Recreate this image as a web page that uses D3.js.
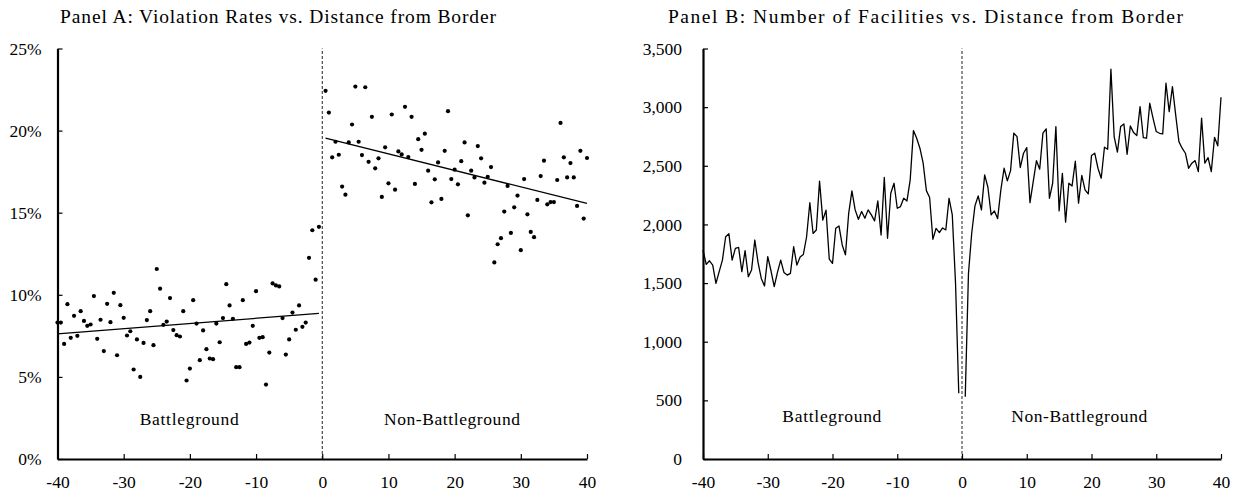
<!DOCTYPE html>
<html>
<head>
<meta charset="utf-8">
<script src="https://cdn.jsdelivr.net/npm/d3@7"></script>
<style>
  body { margin: 0; background: #fff; }
  svg text { font-family: "Liberation Serif", "DejaVu Serif", serif; fill: #000; }
</style>
</head>
<body>
<svg id="chart" width="1239" height="495"></svg>
<script>
// Panel A: violation rate (%) per half-unit bin, left of border (-40 .. -0.5) and right (0.5 .. 40)
var rateLeft = [8.31, 8.31, 7.01, 9.43, 7.38, 8.72, 7.50, 9.00, 8.41, 8.11,
  8.19, 9.92, 7.32, 8.48, 6.57, 9.45, 8.33, 10.12, 6.32, 9.37,
  8.60, 7.52, 7.78, 5.45, 7.28, 5.00, 7.07, 8.46, 9.00, 6.93,
  11.57, 10.37, 8.17, 8.37, 9.80, 7.85, 7.54, 7.46, 9.00, 4.78,
  5.51, 9.67, 8.25, 6.02, 7.83, 6.69, 6.12, 6.08, 8.25, 7.11,
  8.58, 10.65, 9.35, 8.54, 5.59, 5.59, 9.67, 7.01, 7.09, 8.11,
  10.22, 7.38, 7.42, 4.53, 6.48, 10.69, 10.57, 10.51, 8.58, 6.36,
  7.28, 8.92, 7.87, 9.35, 8.05, 8.31, 12.25, 13.93, 10.92, 14.14];
var rateRight = [22.42, 21.10, 18.37, 19.32, 18.53, 16.59, 16.10, 19.28, 20.37, 22.68,
  19.32, 18.51, 22.64, 18.10, 20.84, 17.70, 18.31, 15.96, 18.98, 16.79,
  20.98, 16.40, 18.73, 18.55, 21.45, 18.39, 20.84, 16.75, 19.48, 18.83,
  19.81, 17.56, 15.63, 17.03, 18.06, 15.84, 18.77, 21.18, 17.05, 17.62,
  16.73, 18.14, 19.28, 14.84, 17.56, 17.15, 19.06, 18.31, 16.83, 17.19,
  17.78, 11.97, 13.08, 13.45, 15.07, 16.63, 13.77, 15.33, 16.04, 12.72,
  17.05, 14.90, 13.83, 13.51, 15.78, 17.23, 18.17, 15.51, 15.65, 15.65,
  16.99, 20.47, 18.37, 17.15, 18.02, 17.15, 15.41, 18.77, 14.64, 18.33];

// Panel B: number of facilities per half-unit bin
var facLeft = [1781, 1659, 1690, 1653, 1497, 1597, 1696, 1895, 1920, 1696,
  1796, 1804, 1597, 1776, 1554, 1611, 1867, 1676, 1540, 1475,
  1725, 1605, 1469, 1591, 1696, 1591, 1568, 1583, 1810, 1653,
  1722, 1744, 1895, 2185, 1923, 1952, 2369, 2037, 2122, 1705,
  1668, 1967, 1987, 1825, 1740, 2095, 2286, 2124, 2044, 2110,
  2053, 2124, 2081, 2030, 2200, 1910, 2400, 1882, 2266, 2351,
  2138, 2152, 2223, 2200, 2380, 2800, 2735, 2650, 2522, 2288,
  2229, 1873, 1967, 1930, 1970, 1953, 2223, 2081, 1500, 560];
var facRight = [531, 1583, 1925, 2158, 2243, 2124, 2422, 2317, 2081, 2115,
  2050, 2294, 2479, 2371, 2459, 2778, 2749, 2485, 2607, 2655,
  2186, 2365, 2544, 2471, 2778, 2815, 2223, 2351, 2834, 2115,
  2436, 2019, 2351, 2328, 2539, 2181, 2419, 2294, 2260, 2587,
  2607, 2479, 2394, 2658, 2641, 3323, 2749, 2616, 2834, 2857,
  2598, 2840, 2783, 2758, 3005, 2741, 2735, 3033, 2906, 2792,
  2777, 2772, 3204, 2962, 3175, 2934, 2706, 2650, 2607, 2479,
  2522, 2544, 2450, 2906, 2522, 2570, 2450, 2743, 2670, 3085];

var rateTicks = [0, 5, 10, 15, 20, 25];
var facTicks = [0, 500, 1000, 1500, 2000, 2500, 3000, 3500];
var distTicks = [-40, -30, -20, -10, 0, 10, 20, 30, 40];
var titles = ["Panel A: Violation Rates vs. Distance from Border",
              "Panel B: Number of Facilities vs. Distance from Border"];
var sideLabels = ["Battleground", "Non-Battleground"];

var xsLeft = rateLeft.map(function(d, i) { return -40 + 0.5 * i; });
var xsRight = rateRight.map(function(d, i) { return 0.5 + 0.5 * i; });

var svg = d3.select('#chart');

// least squares fit
function fit(xs, ys) {
  var mx = d3.mean(xs), my = d3.mean(ys);
  var sxy = d3.sum(xs, function(x, i) { return (x - mx) * (ys[i] - my); });
  var sxx = d3.sum(xs, function(x) { return (x - mx) * (x - mx); });
  var b = sxy / sxx;
  return function(x) { return my + b * (x - mx); };
}

function drawPanel(opt) {
  var x = d3.scaleLinear().domain([-40, 40]).range(opt.xRange);
  var y = d3.scaleLinear().domain(opt.yDomain).range([459, 48.5]);
  var g = svg.append('g');

  // border line
  g.append('line')
    .attr('x1', x(0)).attr('x2', x(0))
    .attr('y1', y(opt.yDomain[0])).attr('y2', y(opt.yDomain[1]))
    .attr('stroke', '#222').attr('stroke-width', 1)
    .attr('stroke-dasharray', '3,2');

  // axes
  var yAxis = g.append('g')
    .attr('transform', 'translate(' + opt.xRange[0] + ',0)')
    .call(d3.axisLeft(y).tickValues(opt.yTicks).tickFormat(opt.fmt)
      .tickSizeInner(-5).tickSizeOuter(0).tickPadding(opt.yPad));
  var xAxis = g.append('g')
    .attr('transform', 'translate(0,459)')
    .call(d3.axisBottom(x).tickValues(distTicks)
      .tickFormat(function(d) { return String(d); })
      .tickSizeInner(-5).tickSizeOuter(0).tickPadding(17));
  [xAxis, yAxis].forEach(function(a) {
    a.select('.domain').attr('stroke', '#000').attr('stroke-width', 2.2);
    a.selectAll('.tick line').attr('stroke', '#000').attr('stroke-width', 1.2);
    a.selectAll('text').style('font-size', '17.5px');
  });

  g.append('text')
    .attr('x', opt.titleX).attr('y', 22.7)
    .attr('text-anchor', 'middle')
    .attr('textLength', opt.titleW)
    .attr('lengthAdjust', 'spacing')
    .style('font-size', '19.5px')
    .text(opt.title);

  g.selectAll('.side')
    .data(sideLabels)
    .enter().append('text')
    .attr('x', function(d, i) { return x(opt.labelX[i]); })
    .attr('y', y(opt.labelY))
    .attr('text-anchor', 'middle')
    .attr('textLength', function(d, i) { return [99, 136][i]; })
    .attr('lengthAdjust', 'spacing')
    .style('font-size', '17.5px')
    .text(function(d) { return d; });

  return {g: g, x: x, y: y};
}

// Panel A
var pa = drawPanel({
  xRange: [57.5, 587], yDomain: [0, 25], yTicks: rateTicks,
  fmt: function(d) { return d + '%'; }, yPad: 16,
  title: titles[0], titleX: 278, titleW: 436,
  labelX: [-20.1, 19.6], labelY: 2.07
});

var ptsA = xsLeft.map(function(x, i) { return [x, rateLeft[i]]; })
  .concat(xsRight.map(function(x, i) { return [x, rateRight[i]]; }));
pa.g.selectAll('.dot')
  .data(ptsA)
  .enter().append('circle')
  .attr('cx', function(d) { return pa.x(d[0]); })
  .attr('cy', function(d) { return pa.y(d[1]); })
  .attr('r', 2.1)
  .attr('fill', '#000');

[[xsLeft, rateLeft], [xsRight, rateRight]].forEach(function(s) {
  var f = fit(s[0], s[1]);
  var ends = d3.extent(s[0]);
  pa.g.append('line')
    .attr('x1', pa.x(ends[0])).attr('y1', pa.y(f(ends[0])))
    .attr('x2', pa.x(ends[1])).attr('y2', pa.y(f(ends[1])))
    .attr('stroke', '#000').attr('stroke-width', 1.3);
});

// Panel B
var pb = drawPanel({
  xRange: [703, 1221], yDomain: [0, 3500], yTicks: facTicks,
  fmt: d3.format(','), yPad: 21,
  title: titles[1], titleX: 925.5, titleW: 515,
  labelX: [-20.1, 18.1], labelY: 318
});

// one line per side of the border
var lineB = d3.line()
  .x(function(d) { return pb.x(d[0]); })
  .y(function(d) { return pb.y(d[1]); });
[[xsLeft, facLeft], [xsRight, facRight]].forEach(function(s) {
  pb.g.append('path')
    .datum(s[0].map(function(x, i) { return [x, s[1][i]]; }))
    .attr('fill', 'none')
    .attr('stroke', '#000')
    .attr('stroke-width', 1.3)
    .attr('stroke-linejoin', 'round')
    .attr('d', lineB);
});
</script>
</body>
</html>
